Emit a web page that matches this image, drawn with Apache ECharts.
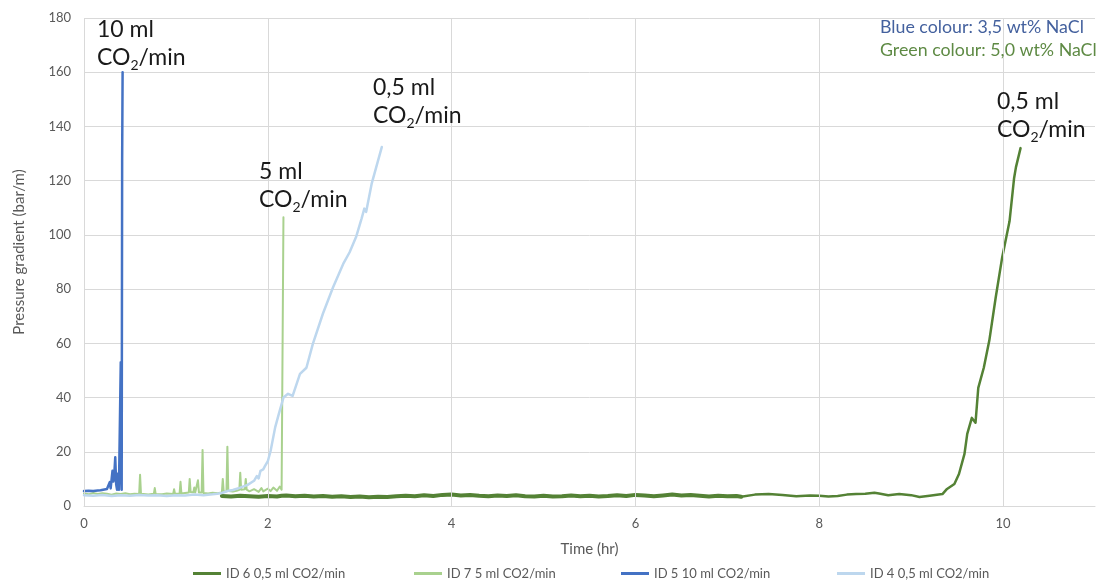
<!DOCTYPE html>
<html>
<head>
<meta charset="utf-8">
<script src="https://cdn.jsdelivr.net/npm/echarts@6/dist/echarts.min.js"></script>
<style>
  html, body { margin: 0; padding: 0; background: #ffffff; }
  #chart { width: 1101px; height: 583px; }
</style>
</head>
<body>
<div id="chart"></div>
<script>
// Pressure gradient vs time for four CO2 injection runs
const seriesNames = ['ID 6 0,5 ml CO2/min', 'ID 7 5 ml CO2/min', 'ID 5 10 ml CO2/min', 'ID 4 0,5 ml CO2/min'];

// ID 6 (5,0 wt% NaCl, 0,5 ml/min): noisy early record, then the later sparser record and breakthrough
const id6Early = [
  [1.50, 3.7], [1.60, 3.5], [1.70, 3.8], [1.80, 3.6], [1.90, 3.4], [2.00, 3.7], [2.10, 3.5],
  [2.15, 3.8], [2.20, 3.9], [2.30, 3.6], [2.40, 3.8], [2.50, 3.5], [2.60, 3.7], [2.70, 3.4],
  [2.80, 3.6], [2.90, 3.3], [3.00, 3.5], [3.10, 3.2], [3.20, 3.4], [3.30, 3.3], [3.40, 3.6],
  [3.50, 3.8], [3.60, 3.6], [3.70, 4.0], [3.80, 3.7], [3.90, 4.1], [4.00, 4.2], [4.10, 3.9],
  [4.20, 4.1], [4.30, 3.8], [4.40, 3.6], [4.50, 3.9], [4.60, 3.7], [4.70, 4.0], [4.80, 3.6],
  [4.90, 3.5], [5.00, 3.8], [5.10, 3.5], [5.20, 3.6], [5.30, 3.9], [5.40, 3.6], [5.50, 3.8],
  [5.60, 3.5], [5.70, 3.7], [5.80, 4.0], [5.90, 3.7], [6.00, 4.1], [6.10, 3.9], [6.20, 3.6],
  [6.30, 3.9], [6.40, 4.2], [6.50, 3.9], [6.60, 4.1], [6.70, 3.8], [6.80, 3.5], [6.90, 3.8],
  [7.00, 3.6], [7.10, 3.7], [7.15, 3.4]
];
const id6Late = [
  [7.15, 3.4], [7.30, 4.2], [7.45, 4.4], [7.60, 4.1], [7.75, 3.6], [7.90, 3.9], [8.00, 3.8],
  [8.10, 3.5], [8.20, 3.7], [8.30, 4.2], [8.40, 4.4], [8.50, 4.5], [8.60, 4.9], [8.62, 5.4],
  [8.65, 4.6], [8.75, 4.0], [8.87, 4.4], [9.00, 4.0], [9.09, 3.3], [9.20, 3.8], [9.34, 4.4],
  [9.39, 6.3], [9.47, 8.1], [9.52, 11.8], [9.58, 19.2], [9.61, 26.6], [9.66, 32.5], [9.70, 30.7],
  [9.73, 43.6], [9.79, 51.0], [9.85, 61.0], [9.92, 77.0], [9.99, 91.7], [10.07, 105.0],
  [10.12, 121.0], [10.14, 125.0], [10.19, 132.0]
];

// ID 7 (5,0 wt% NaCl, 5 ml/min)
const id7 = [
  [0.00, 4.6], [0.05, 4.3], [0.10, 4.8], [0.15, 4.4], [0.20, 4.7], [0.25, 4.5], [0.30, 4.2],
  [0.35, 4.6], [0.40, 4.4], [0.45, 4.7], [0.50, 4.3], [0.55, 4.5], [0.60, 4.4], [0.61, 11.5],
  [0.62, 4.5], [0.70, 4.2], [0.76, 4.5], [0.77, 6.6], [0.78, 4.4], [0.85, 4.3], [0.90, 4.6],
  [0.97, 4.4], [0.98, 6.2], [0.99, 4.5], [1.04, 4.6], [1.05, 8.9], [1.06, 4.6], [1.10, 4.8],
  [1.14, 5.0], [1.15, 10.0], [1.16, 5.2], [1.19, 5.1], [1.20, 6.8], [1.21, 5.0], [1.23, 5.2],
  [1.24, 9.5], [1.25, 5.0], [1.28, 5.0], [1.29, 20.7], [1.30, 4.8], [1.35, 4.6], [1.40, 4.9],
  [1.45, 4.7], [1.50, 5.0], [1.51, 10.0], [1.52, 5.2], [1.55, 5.4], [1.56, 21.9], [1.57, 5.5],
  [1.62, 5.3], [1.66, 5.6], [1.69, 6.0], [1.70, 12.3], [1.71, 6.0], [1.75, 6.2], [1.76, 10.0],
  [1.77, 6.0], [1.80, 5.4], [1.85, 6.2], [1.90, 5.2], [1.93, 6.6], [1.95, 5.4], [2.00, 6.4],
  [2.03, 5.5], [2.06, 6.8], [2.10, 5.6], [2.13, 7.2], [2.15, 6.0], [2.16, 6.5], [2.17, 106.5]
];

// ID 5 (3,5 wt% NaCl, 10 ml/min)
const id5 = [
  [0.00, 5.5], [0.05, 5.6], [0.10, 5.5], [0.15, 5.7], [0.18, 5.8], [0.20, 6.2], [0.25, 6.3],
  [0.27, 6.5], [0.28, 8.8], [0.29, 6.5], [0.31, 13.0], [0.32, 9.0], [0.33, 12.0], [0.34, 18.0],
  [0.35, 8.0], [0.36, 6.0], [0.37, 12.0], [0.38, 6.0], [0.39, 6.0], [0.40, 53.0], [0.405, 12.0],
  [0.41, 6.0], [0.415, 127.0], [0.42, 160.0]
];

// ID 4 (3,5 wt% NaCl, 0,5 ml/min)
const id4 = [
  [0.00, 4.0], [0.10, 3.8], [0.20, 4.1], [0.30, 3.7], [0.40, 4.0], [0.50, 3.8], [0.60, 4.1],
  [0.70, 3.9], [0.80, 4.0], [0.90, 3.7], [1.00, 4.0], [1.10, 3.9], [1.20, 4.2], [1.30, 4.0],
  [1.40, 4.3], [1.45, 4.5], [1.50, 4.8], [1.56, 5.5], [1.62, 5.9], [1.70, 6.8], [1.78, 7.8],
  [1.85, 9.3], [1.88, 11.0], [1.90, 10.2], [1.92, 13.0], [1.95, 13.5], [1.97, 14.8], [2.00, 16.5],
  [2.03, 20.3], [2.08, 29.0], [2.12, 34.0], [2.17, 40.0], [2.22, 41.4], [2.27, 40.6], [2.35, 48.7],
  [2.42, 51.0], [2.49, 59.8], [2.60, 71.0], [2.71, 80.7], [2.82, 89.3], [2.89, 93.6], [2.96, 99.2],
  [3.02, 106.0], [3.05, 109.7], [3.07, 108.5], [3.13, 118.9], [3.24, 132.4]
];

const xTicks = { min: 0, max: 11, step: 2 };
const xGridValues = [0, 2, 4, 6, 8, 10];
const yTicks = { min: 0, max: 180, step: 20 };

const colors = { id6: '#548235', id7: '#a9d18e', id5: '#4472c4', id4: '#bdd7ee' };
const gray = '#595959';
const grid = '#d9d9d9';
const font = 'Lato, "Open Sans", sans-serif';

const chart = echarts.init(document.getElementById('chart'), null, { renderer: 'canvas' });

function lineSeries(name, data, color, width, z) {
  return {
    name: name, type: 'line', data: data, symbol: 'none', z: z,
    lineStyle: { color: color, width: width, join: 'round', cap: 'round' },
    itemStyle: { color: color },
    emphasis: { disabled: true }
  };
}

const rateRich = {
  t: { fontSize: 23, lineHeight: 28, fontFamily: font, fontWeight: 'normal', color: '#1a1a1a' },
  s: { fontSize: 14, lineHeight: 28, fontFamily: font, fontWeight: 'normal', color: '#1a1a1a', verticalAlign: 'bottom' }
};
function rateLabel(rate, left, top) {
  return {
    text: '{t|' + rate + '}\n{t|CO}{s|2}{t|/min}',
    left: left, top: top, padding: 0,
    textStyle: { fontWeight: 'normal', rich: rateRich }
  };
}

const legendLeft = [193, 414, 621, 837];

chart.setOption({
  animation: false,
  backgroundColor: '#ffffff',
  grid: { left: 84, right: 6, top: 18, bottom: 77, containLabel: false },
  xAxis: {
    type: 'value', min: xTicks.min, max: xTicks.max, interval: xTicks.step,
    name: 'Time (hr)', nameLocation: 'middle', nameGap: 36,
    nameTextStyle: { color: gray, fontSize: 15, fontFamily: font },
    axisLine: { show: true, lineStyle: { color: grid, width: 1 } },
    axisTick: { show: false },
    axisLabel: { color: gray, fontSize: 13, fontFamily: font, margin: 11, showMaxLabel: false },
    splitLine: { show: false }
  },
  yAxis: {
    type: 'value', min: yTicks.min, max: yTicks.max, interval: yTicks.step,
    name: 'Pressure gradient (bar/m)', nameLocation: 'middle', nameGap: 57,
    nameTextStyle: { color: gray, fontSize: 15, fontFamily: font, padding: [0, 0, 0, 20] },
    axisLine: { show: false },
    axisTick: { show: false },
    axisLabel: { color: gray, fontSize: 13, fontFamily: font, margin: 13 },
    splitLine: { show: true, lineStyle: { color: grid, width: 1 } }
  },
  legend: seriesNames.map((n, i) => ({
    data: [n], left: legendLeft[i], top: 567, padding: 0,
    icon: 'rect', itemWidth: 28, itemHeight: 3, itemGap: 0,
    selectedMode: false,
    textStyle: { color: gray, fontSize: 13, fontFamily: font }
  })),
  title: [
    rateLabel('10 ml', 97, 16),
    rateLabel('5 ml', 259, 158),
    rateLabel('0,5 ml', 373, 74),
    rateLabel('0,5 ml', 997, 88),
    { text: 'Blue colour: 3,5 wt% NaCl', left: 880, top: 18, padding: 0,
      textStyle: { color: '#44619e', fontSize: 17.8, fontWeight: 'normal', fontFamily: font } },
    { text: 'Green colour: 5,0 wt% NaCl', left: 880, top: 41, padding: 0,
      textStyle: { color: '#5e8a44', fontSize: 17.8, fontWeight: 'normal', fontFamily: font } }
  ],
  series: [
    {
      // vertical grid lines at the labelled time ticks
      type: 'line', data: [], z: 0, silent: true,
      markLine: {
        silent: true, symbol: ['none', 'none'], label: { show: false },
        lineStyle: { color: grid, width: 1, type: 'solid' },
        emphasis: { disabled: true },
        data: xGridValues.map(v => ({ xAxis: v }))
      }
    },
    lineSeries(seriesNames[0], id6Early, colors.id6, 4, 2),
    lineSeries(seriesNames[0], id6Late, colors.id6, 2.5, 2),
    lineSeries(seriesNames[1], id7, colors.id7, 2, 3),
    lineSeries(seriesNames[2], id5, colors.id5, 2.5, 4),
    lineSeries(seriesNames[3], id4, colors.id4, 2.5, 5)
  ]
});
</script>
</body>
</html>
